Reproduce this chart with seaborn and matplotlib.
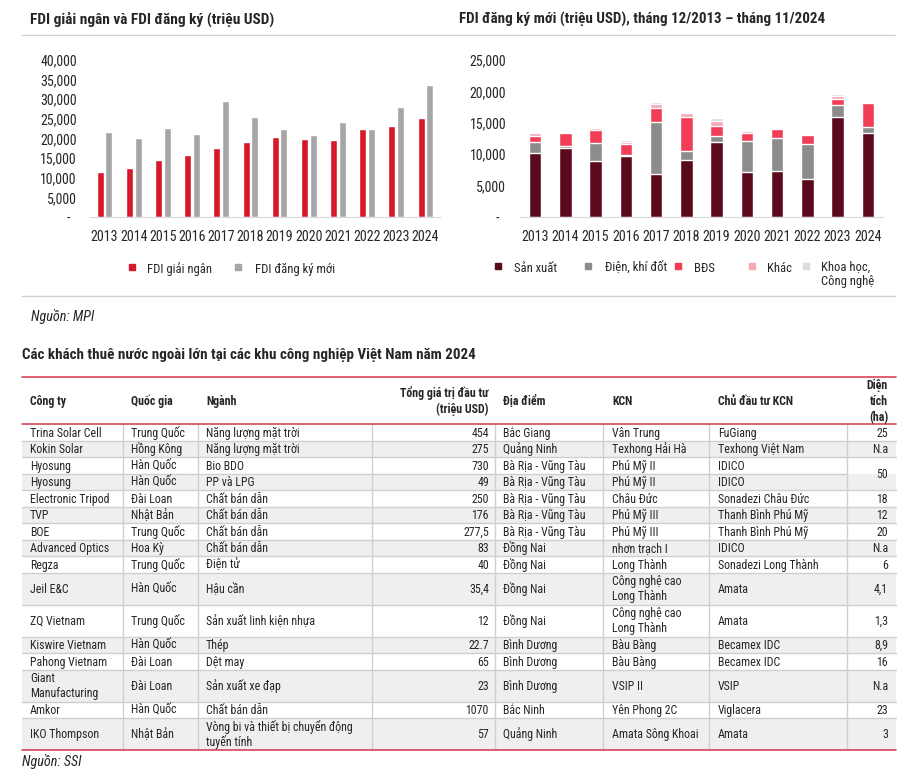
import matplotlib
matplotlib.use('Agg')
import matplotlib.pyplot as plt
from matplotlib import font_manager as fm
import seaborn as sns
import pandas as pd
import numpy as np

# ---- chart data (trieu USD) ----
years = [str(y) for y in range(2013, 2025)]
fdi_giai_ngan = [11500, 12500, 14500, 15800, 17500, 19100, 20400, 20000, 19700, 22400, 23200, 25350]
fdi_dang_ky = [21600, 20200, 22800, 21100, 29600, 25600, 22500, 21000, 24100, 22400, 28100, 33600]

san_xuat = [10170, 10970, 8850, 9690, 6890, 9000, 12020, 7200, 7260, 6090, 15890, 13450]
dien_khi_dot = [1750, 260, 2860, 160, 8260, 1540, 800, 4980, 5290, 5460, 2010, 850]
bds = [950, 2070, 2170, 1700, 2280, 5350, 1690, 1120, 1490, 1480, 960, 3820]
khac = [480, 310, 370, 470, 530, 640, 850, 360, 210, 210, 420, 160]
khcn = [200, 160, 110, 220, 320, 260, 420, 220, 110, 110, 270, 100]
stack_names = ['Sản xuất', 'Điện, khí đốt', 'BĐS', 'Khác', 'Khoa học,\nCông nghệ']

# ---- table data ----
cong_ty = ['Trina Solar Cell', 'Kokin Solar', 'Hyosung', 'Hyosung', 'Electronic Tripod', 'TVP', 'BOE',
           'Advanced Optics', 'Regza', 'Jeil E&C', 'ZQ Vietnam', 'Kiswire Vietnam', 'Pahong Vietnam',
           'Giant\nManufacturing', 'Amkor', 'IKO Thompson']
quoc_gia = ['Trung Quốc', 'Hồng Kông', 'Hàn Quốc', 'Hàn Quốc', 'Đài Loan', 'Nhật Bản', 'Trung Quốc', 'Hoa Kỳ',
            'Trung Quốc', 'Hàn Quốc', 'Trung Quốc', 'Hàn Quốc', 'Đài Loan', 'Đài Loan', 'Hàn Quốc', 'Nhật Bản']
nganh = ['Năng lượng mặt trời', 'Năng lượng mặt trời', 'Bio BDO', 'PP và LPG', 'Chất bán dẫn', 'Chất bán dẫn',
         'Chất bán dẫn', 'Chất bán dẫn', 'Điện tử', 'Hậu cần', 'Sản xuất linh kiện nhựa', 'Thép', 'Dệt may',
         'Sản xuất xe đạp', 'Chất bán dẫn', 'Vòng bi và thiết bị chuyển động\ntuyến tính']
von_dau_tu = ['454', '275', '730', '49', '250', '176', '277,5', '83', '40', '35,4', '12', '22.7', '65', '23',
              '1070', '57']
dia_diem = ['Bắc Giang', 'Quảng Ninh', 'Bà Rịa - Vũng Tàu', 'Bà Rịa - Vũng Tàu', 'Bà Rịa - Vũng Tàu',
            'Bà Rịa - Vũng Tàu', 'Bà Rịa - Vũng Tàu', 'Đồng Nai', 'Đồng Nai', 'Đồng Nai', 'Đồng Nai',
            'Bình Dương', 'Bình Dương', 'Bình Dương', 'Bắc Ninh', 'Quảng Ninh']
kcn = ['Vân Trung', 'Texhong Hải Hà', 'Phú Mỹ II', 'Phú Mỹ II', 'Châu Đức', 'Phú Mỹ III', 'Phú Mỹ III',
       'nhơn trạch I', 'Long Thành', 'Công nghệ cao\nLong Thành', 'Công nghệ cao\nLong Thành', 'Bàu Bàng',
       'Bàu Bàng', 'VSIP II', 'Yên Phong 2C', 'Amata Sông Khoai']
chu_dau_tu = ['FuGiang', 'Texhong Việt Nam', 'IDICO', 'IDICO', 'Sonadezi Châu Đức', 'Thanh Bình Phú Mỹ',
              'Thanh Bình Phú Mỹ', 'IDICO', 'Sonadezi Long Thành', 'Amata', 'Amata', 'Becamex IDC',
              'Becamex IDC', 'VSIP', 'Viglacera', 'Amata']
dien_tich = ['25', 'N.a', '50', None, '18', '12', '20', 'N.a', '6', '4,1', '1,3', '8,9', '16', 'N.a', '23', '3']
headers = ['Công ty', 'Quốc gia', 'Ngành', 'Tổng giá trị đầu tư\n(triệu USD)', 'Địa điểm', 'KCN',
           'Chủ đầu tư KCN', 'Diện\ntích\n(ha)']

sns.set_style('white')

# the original uses a narrow Arial; take a narrow face if one is installed
installed = {f.name for f in fm.fontManager.ttflist}
narrow = next((n for n in ['Liberation Sans Narrow', 'Roboto Condensed', 'Arial Narrow', 'Open Sans Condensed']
               if n in installed), None)
noto_cond = [f for f in fm.fontManager.ttflist
             if f.name == 'Noto Sans' and str(f.stretch) in ('condensed', 'semi-condensed', '75', '87.5')]
k = 1.0
if narrow:
    plt.rcParams['font.family'] = [narrow, 'DejaVu Sans']
    k = 1.2
elif noto_cond:
    plt.rcParams['font.family'] = ['Noto Sans', 'DejaVu Sans']
    plt.rcParams['font.stretch'] = 'condensed'
    k = 1.1
else:
    plt.rcParams['font.family'] = ['Liberation Sans', 'DejaVu Sans']

RED = '#d7182a'
GRAY = '#a6a6a6'
stack_colors = ['#5a0a1c', '#8c8c8c', '#f23d57', '#f5a9b5', '#dcdcdc']
LINE_RED = '#d9445a'
GRID = '#cfcfcf'

W, H = 918, 778
fig = plt.figure(figsize=(W / 100, H / 100), dpi=100)


def px_axes(l, t, r, b):
    return fig.add_axes([l / W, 1 - b / H, (r - l) / W, (b - t) / H])


def style_axis(ax, ymax, step, pad):
    ax.set_ylim(0, ymax)
    ax.set_xlim(-0.5, len(years) - 0.5)
    ticks = list(range(0, ymax + 1, step))
    ax.set_yticks(ticks)
    ax.set_yticklabels(['-  ' if v == 0 else f'{v:,}' for v in ticks], fontsize=8.3 * k)
    ax.tick_params(axis='both', length=0)
    ax.tick_params(axis='y', pad=pad)
    ax.tick_params(axis='x', pad=9.5, labelsize=8.4 * k)
    for s in ['top', 'right', 'left']:
        ax.spines[s].set_visible(False)
    ax.spines['bottom'].set_color('#d9d9d9')
    ax.set_xlabel('')
    ax.set_ylabel('')
    ax.set_facecolor('none')


# ---- left chart: grouped bars ----
ax1 = px_axes(90, 60, 440, 217)
df1 = pd.DataFrame({'year': years * 2,
                    'value': fdi_giai_ngan + fdi_dang_ky,
                    'series': ['FDI giải ngân'] * 12 + ['FDI đăng ký mới'] * 12})
sns.barplot(data=df1, x='year', y='value', hue='series', palette=[RED, GRAY], width=0.6, gap=0.2,
            saturation=1, legend=False, ax=ax1)
style_axis(ax1, 40000, 5000, 9.5)

# ---- right chart: stacked bars ----
ax2 = px_axes(520, 60, 883, 217)
cum = np.cumsum(np.array([san_xuat, dien_khi_dot, bds, khac, khcn]), axis=0)
for i in reversed(range(len(stack_names))):
    sns.barplot(x=years, y=cum[i], color=stack_colors[i], width=0.42, saturation=1, ax=ax2)
style_axis(ax2, 25000, 5000, 10)

# ---- overlay for texts, legends and table ----
ov = fig.add_axes([0, 0, 1, 1])
ov.set_xlim(0, W)
ov.set_ylim(H, 0)
ov.axis('off')


def put(x, yc, s, fs, ha='left', step=15.0, off=None, **kw):
    # one text per line, aligned on baselines so that stacked accents do not shift them
    fs = fs * k
    if off is None:
        off = 0.36 * fs / 0.72
    lines = s.split('\n')
    n = len(lines)
    for kk, line in enumerate(lines):
        yb = yc + (kk - (n - 1) / 2) * step + off
        ov.text(x, yb, line, fontsize=fs, ha=ha, va='baseline', **kw)


put(30, 18, 'FDI giải ngân và FDI đăng ký (triệu USD)', 9.2, fontweight='bold')
put(459, 18, 'FDI đăng ký mới (triệu USD), tháng 12/2013 – tháng 11/2024', 9.0, fontweight='bold')
for y in [35, 296]:
    ov.plot([22, 895], [y, y], color='#d0d0d0', lw=1)

# legends
for xm, xt, c, lab in [(132, 147, RED, 'FDI giải ngân'), (238, 255, GRAY, 'FDI đăng ký mới')]:
    ov.plot(xm, 267, 's', color=c, ms=5)
    put(xt, 268, lab, 7.6)
leg_mx = [498, 588, 678, 752, 806]
leg_tx = [514, 605, 694, 767, 821]
for xm, xt, c, lab in zip(leg_mx, leg_tx, stack_colors, stack_names):
    ov.plot(xm, 266, 's', color=c, ms=5)
    if '\n' in lab:
        put(xt, 273, lab, 7.6, step=14.5)
    else:
        put(xt, 267, lab, 7.6)

put(31, 316, 'Nguồn: MPI', 8.5, style='italic')
put(22, 354, 'Các khách thuê nước ngoài lớn tại các khu công nghiệp Việt Nam năm 2024', 9.0,
    fontweight='bold')

# ---- table ----
col_edges = [22, 123, 198, 372, 495, 603, 709, 847, 896]
text_x = [30, 131, 206, 489, 503, 612, 718, 888]
align = ['left', 'left', 'left', 'right', 'left', 'left', 'left', 'right']
columns = [cong_ty, quoc_gia, nganh, von_dau_tu, dia_diem, kcn, chu_dau_tu, dien_tich]
FS = 7.1

top, head_bot = 377, 424
ov.plot([22, 896], [top, top], color=LINE_RED, lw=1.2)
for j, h in enumerate(headers):
    put(text_x[j], 401, h, FS, ha=align[j], step=16, fontweight='bold')

n_lines = [max(str(col[i] or '').count('\n') + 1 for col in columns) for i in range(len(cong_ty))]
heights = [16.5 if n == 1 else 32 for n in n_lines]
bounds = [head_bot]
for hgt in heights:
    bounds.append(bounds[-1] + hgt)

for i in range(len(cong_ty)):
    y0, y1 = bounds[i], bounds[i + 1]
    if i % 2 == 1:
        ov.fill_between([22, 896], y0, y1, color='#efefef', lw=0)
    yc = (y0 + y1) / 2
    for j, col in enumerate(columns):
        val = col[i]
        if val is None:
            continue
        yy = yc
        if j == 7 and i + 1 < len(cong_ty) and col[i + 1] is None:
            yy = (y0 + bounds[i + 2]) / 2
        put(text_x[j], yy, val, FS, ha=align[j], step=15)
    if i < len(cong_ty) - 1:
        x_end = col_edges[-2] if dien_tich[i + 1] is None else 896
        ov.plot([22, x_end], [y1, y1], color=GRID, lw=1)

for x in col_edges[1:-1]:
    ov.plot([x, x], [head_bot, bounds[-1]], color=GRID, lw=1)
ov.plot([22, 896], [head_bot, head_bot], color=LINE_RED, lw=1.2)
ov.plot([22, 896], [bounds[-1], bounds[-1]], color=LINE_RED, lw=1.2)

put(22, 761, 'Nguồn: SSI', 8.5, style='italic')

fig.savefig('out.png', dpi=100)
